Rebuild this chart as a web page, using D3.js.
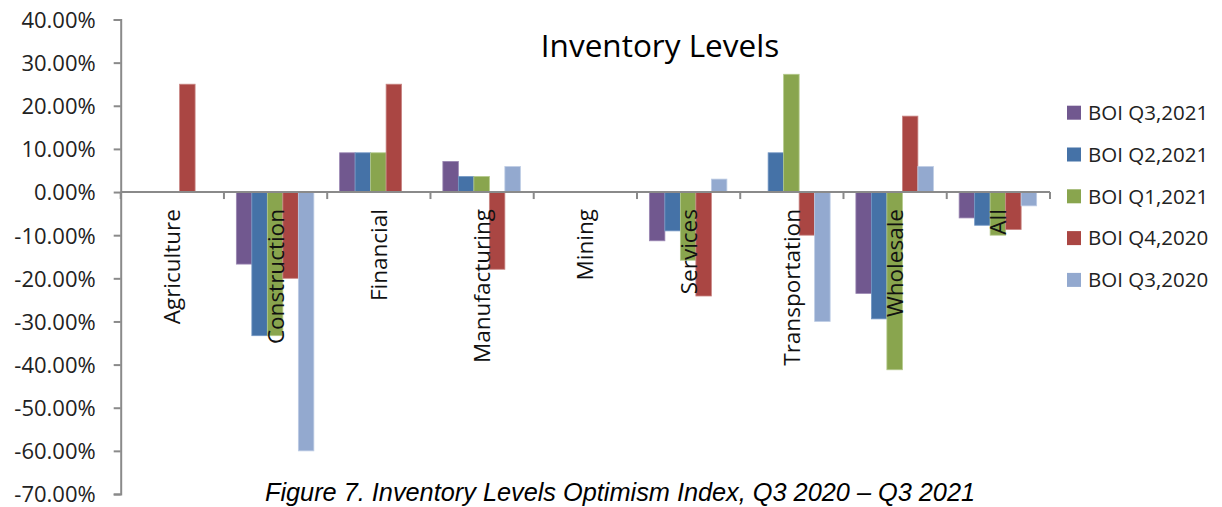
<!DOCTYPE html>
<html><head><meta charset="utf-8">
<script src="https://cdn.jsdelivr.net/npm/d3@7"></script>
<style>body{margin:0;background:#fff}svg{display:block}</style>
</head><body><svg id="c" width="1222" height="507"></svg>
<script>
const categories = ["Agriculture","Construction","Financial","Manufacturing","Mining","Services","Transportation","Wholesale","All"];
const seriesNames = ["BOI Q3,2021","BOI Q2,2021","BOI Q1,2021","BOI Q4,2020","BOI Q3,2020"];
const q3_2021 = [0,-16.7,9.1,7.1,0,-11.3,0,-23.5,-6.0];
const q2_2021 = [0,-33.3,9.1,3.6,0,-9.0,9.1,-29.4,-7.7];
const q1_2021 = [0,-33.3,9.1,3.6,0,-15.8,27.3,-41.2,-10.0];
const q4_2020 = [25,-20,25,-17.9,0,-24.1,-10,17.6,-8.7];
const q3_2020 = [0,-60,0,5.9,0,3.0,-30,5.9,-3.2];
const yTicks = [40,30,20,10,0,-10,-20,-30,-40,-50,-60,-70];
const title = "Inventory Levels";
const caption = "Figure 7. Inventory Levels Optimism Index, Q3 2020 \u2013 Q3 2021";

(function(){
const seriesValues = [q3_2021,q2_2021,q1_2021,q4_2020,q3_2020];
const colors = ["#71588F","#4572A7","#89A54E","#AA4643","#93A9CF"];
const strokes = ["#9a86b2","#7397c4","#b3c98a","#c98684","#bccbe4"];

const svg = d3.select("#c");
const font = "'Open Sans', sans-serif";
const axisColor = "#8a8a8a";
const pl = 120.7, pr = 1050, pt = 19.5, pb = 494;

const y = d3.scaleLinear().domain([-70,40]).range([pb, pt]);
const x0 = d3.scaleBand().domain(categories).range([pl, pr]).padding(0);
const x1 = d3.scaleBand().domain(seriesNames).range([12.4, 12.4+77.5]).padding(0);

const g = svg.append("g");
categories.forEach((c, ci) => {
  seriesNames.forEach((s, si) => {
    const v = seriesValues[si][ci];
    if (v === 0) return;
    const y0 = y(0), yv = y(v);
    g.append("rect")
      .attr("x", x0(c) + x1(s))
      .attr("y", Math.min(y0, yv))
      .attr("width", x1.bandwidth())
      .attr("height", Math.abs(yv - y0))
      .attr("fill", colors[si])
      .attr("stroke", strokes[si])
      .attr("stroke-width", 0.8);
  });
});

const yAxis = d3.axisLeft(y).tickValues(yTicks).tickSize(7).tickPadding(18)
  .tickFormat(d => d.toFixed(2) + "%");
const ya = svg.append("g").attr("transform", `translate(${pl},0)`).call(yAxis);
ya.select(".domain").attr("stroke", axisColor).attr("stroke-width", 2);
ya.selectAll(".tick line").attr("stroke", axisColor).attr("stroke-width", 2);
ya.selectAll(".tick text").attr("font-family", font).attr("font-size", 22).attr("fill", "#222").attr("dy", "0.36em");

const xa = svg.append("g");
xa.append("line").attr("x1", pl).attr("x2", pr).attr("y1", y(0)).attr("y2", y(0))
  .attr("stroke", axisColor).attr("stroke-width", 2);
const bounds = categories.map(c => x0(c)).concat([pr]);
xa.selectAll("line.t").data(bounds).enter().append("line")
  .attr("x1", d => d).attr("x2", d => d).attr("y1", y(0)).attr("y2", y(0) + 7)
  .attr("stroke", axisColor).attr("stroke-width", 2);

svg.append("g").selectAll("text").data(categories).enter().append("text")
  .attr("transform", d => `translate(${x0(d) + x0.bandwidth()/2 + 8},${y(0) + 17}) rotate(-90)`)
  .attr("text-anchor", "end")
  .attr("font-family", font).attr("font-size", 22.5).attr("fill", "#111")
  .text(d => d);

svg.append("text").attr("x", 660).attr("y", 57).attr("text-anchor", "middle")
  .attr("font-family", font).attr("font-size", 31.5).attr("fill", "#000").text(title);

const lg = svg.append("g");
seriesNames.forEach((s, i) => {
  const cy = 112.7 + i * 41.8;
  lg.append("rect").attr("x", 1067).attr("y", cy - 7).attr("width", 14).attr("height", 14).attr("fill", colors[i]);
  lg.append("text").attr("x", 1088).attr("y", cy).attr("dy", "0.36em")
    .attr("font-family", font).attr("font-size", 20.5).attr("fill", "#222").text(s);
});

svg.append("text").attr("x", 620).attr("y", 501).attr("text-anchor", "middle")
  .attr("font-family", "'Liberation Sans', Arial, sans-serif").attr("font-style", "italic")
  .attr("font-size", 25.3).attr("fill", "#000").text(caption);
})();
</script></body></html>
